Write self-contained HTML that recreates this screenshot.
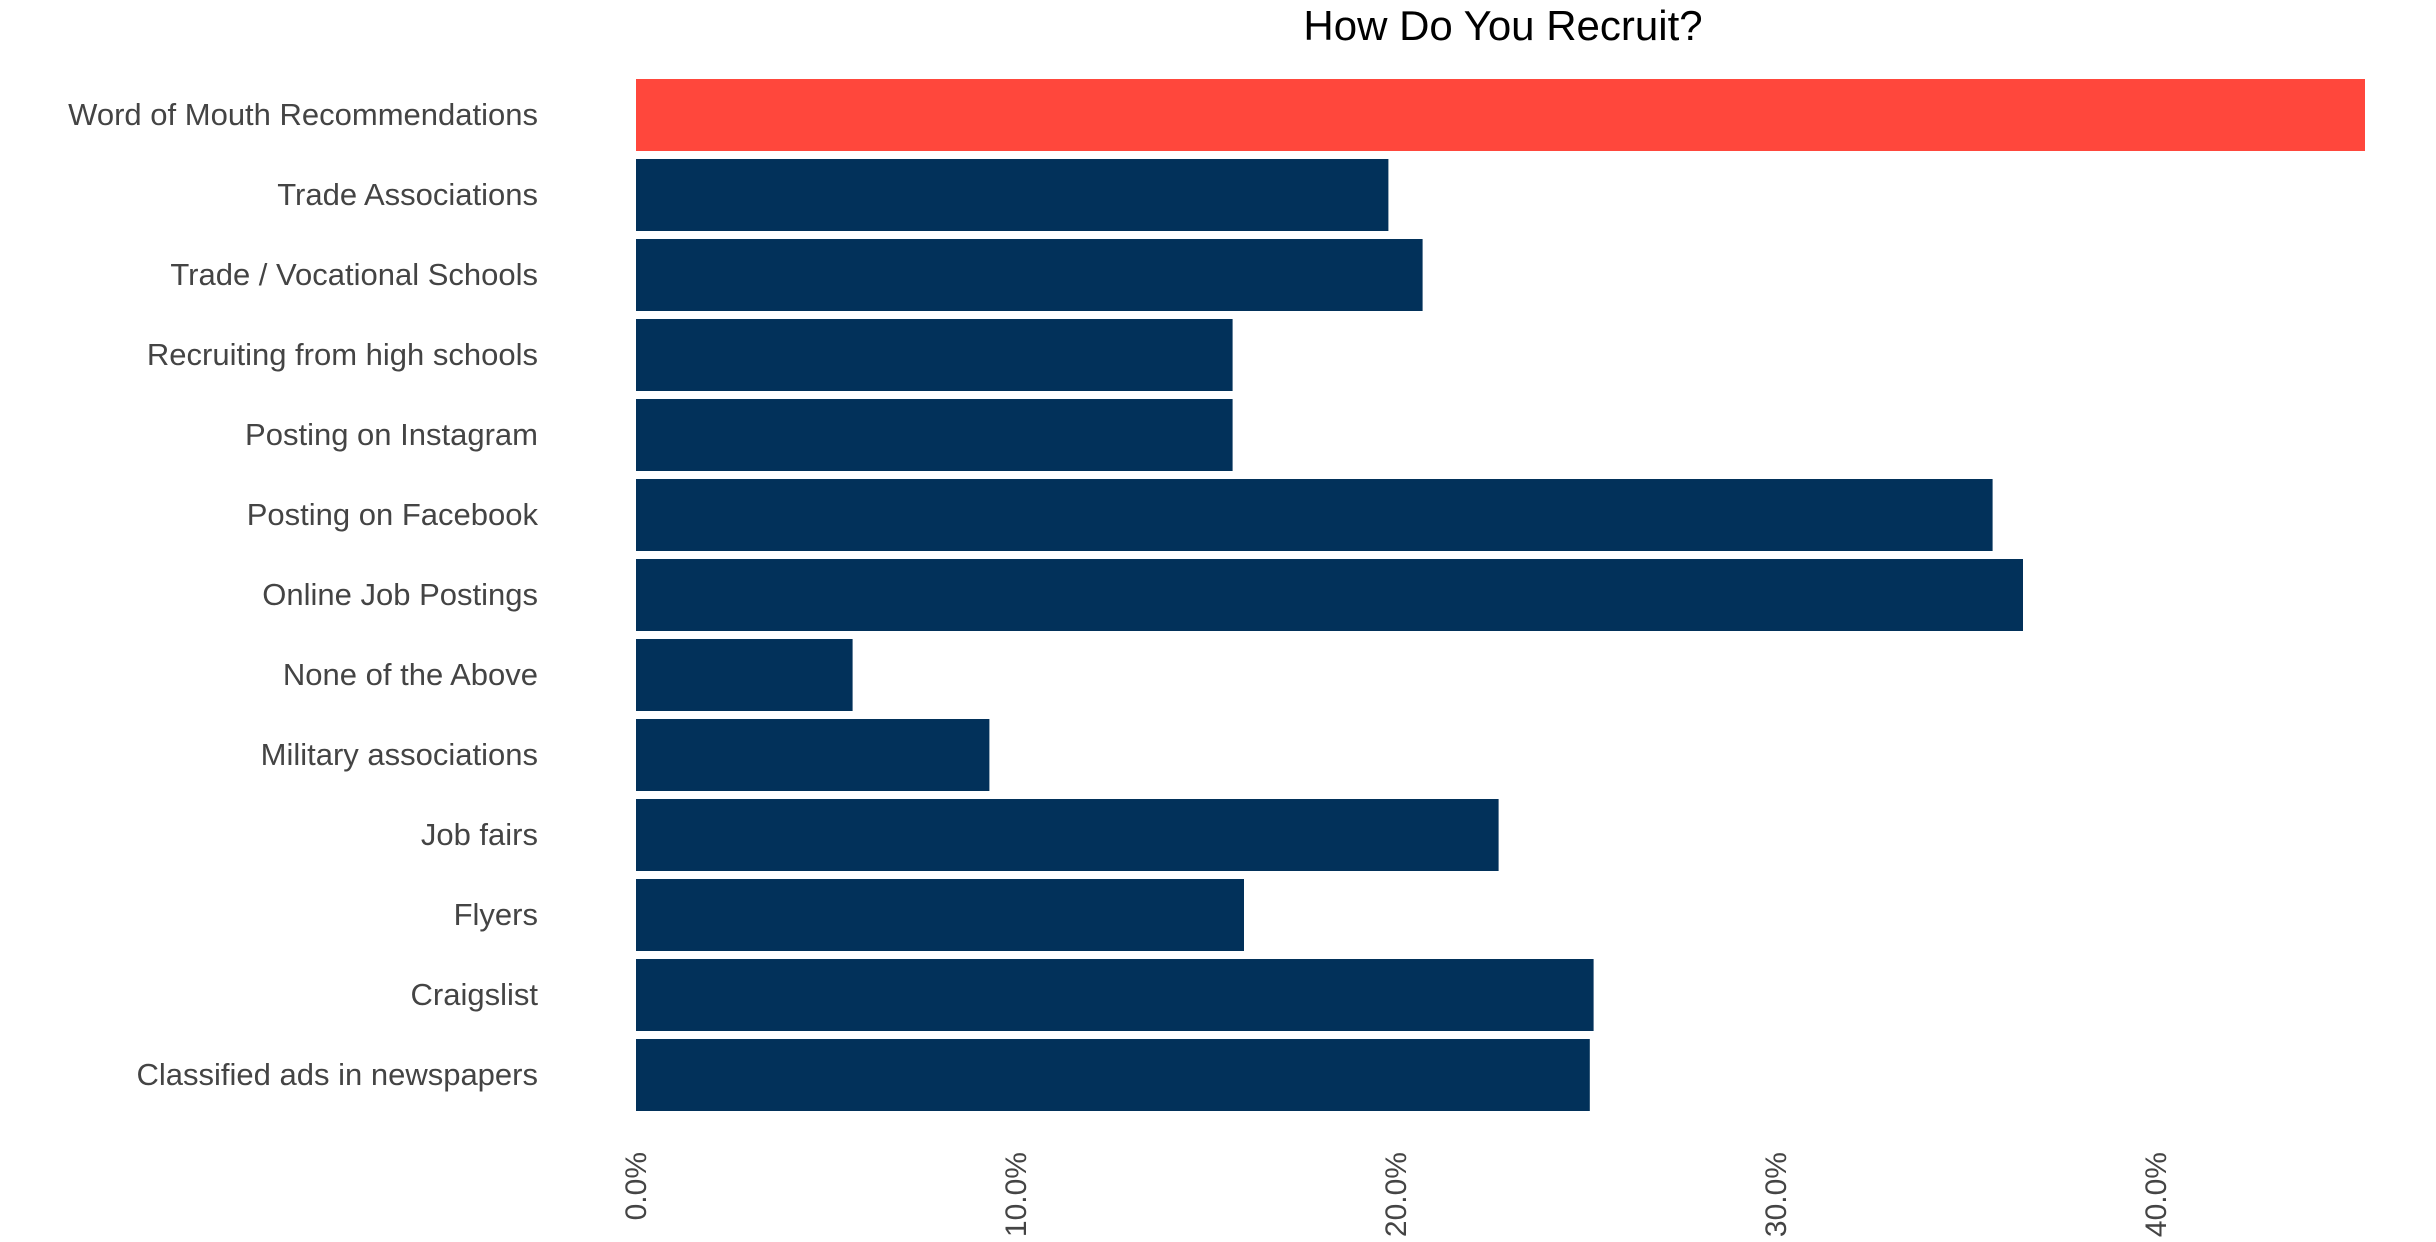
<!DOCTYPE html>
<html><head><meta charset="utf-8"><style>
html,body{margin:0;padding:0;background:#fff;width:2436px;height:1242px;overflow:hidden}
svg{display:block;font-family:"Liberation Sans",sans-serif}
</style></head><body>
<svg id="chart" width="2436" height="1242" xmlns="http://www.w3.org/2000/svg">
<text x="1503" y="40" text-anchor="middle" font-size="42" fill="#000">How Do You Recruit?</text>
<g id="bars"></g><g id="labels"></g><g id="ticks"></g>
</svg>
<script>
const categories=["Word of Mouth Recommendations","Trade Associations","Trade / Vocational Schools","Recruiting from high schools","Posting on Instagram","Posting on Facebook","Online Job Postings","None of the Above","Military associations","Job fairs","Flyers","Craigslist","Classified ads in newspapers"];
const values=[45.5,19.8,20.7,15.7,15.7,35.7,36.5,5.7,9.3,22.7,16.0,25.2,25.1];
const tickValues=[0,10,20,30,40];
const tickLabels=["0.0%","10.0%","20.0%","30.0%","40.0%"];
const NS="http://www.w3.org/2000/svg";
const x0=636,pxPer=38.0,y0=79,step=80,bh=72;
const xs=v=>x0+v*pxPer;
const ys=i=>y0+i*step;
const gb=document.getElementById('bars'),gl=document.getElementById('labels'),gt=document.getElementById('ticks');
categories.forEach((c,i)=>{
  const r=document.createElementNS(NS,'rect');
  
  
  r.setAttribute('x',xs(0));r.setAttribute('y',ys(i));
  r.setAttribute('width',xs(values[i])-xs(0));r.setAttribute('height',bh);
  r.setAttribute('fill',i===0?'#ff473c':'#02315a');
  gb.appendChild(r);
  const t=document.createElementNS(NS,'text');
  
  
  t.setAttribute('x',538);t.setAttribute('y',ys(i)+bh/2+10);
  t.setAttribute('text-anchor','end');t.setAttribute('font-size','31');t.setAttribute('fill','#444');
  t.textContent=c;gl.appendChild(t);
});
tickValues.forEach((v,k)=>{
  const t=document.createElementNS(NS,'text');
  
  
  const x=xs(v)+10,y=1152;
  t.setAttribute('x',x);t.setAttribute('y',y);
  t.setAttribute('transform','rotate(-90 '+x+' '+y+')');
  t.setAttribute('text-anchor','end');t.setAttribute('font-size','30');t.setAttribute('fill','#444');
  t.textContent=tickLabels[k];gt.appendChild(t);
});
</script>
</body></html>
